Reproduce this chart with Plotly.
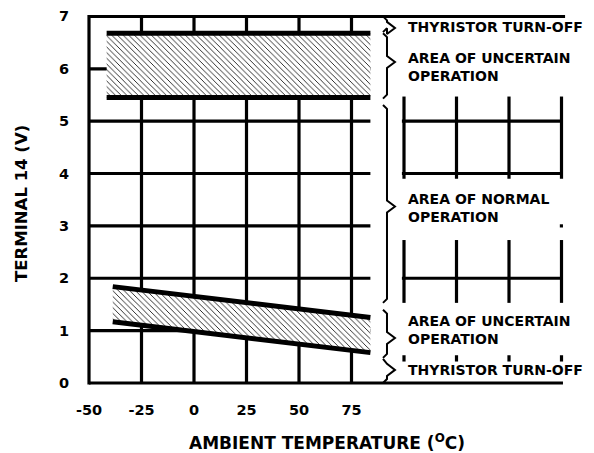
import plotly.graph_objects as go

# ---------------- data ----------------
x_ticks = [-50, -25, 0, 25, 50, 75]
y_ticks = [0, 1, 2, 3, 4, 5, 6, 7]

# upper band (thyristor turn-off region near 6V)
top_band_x = [-41.6, 84.0]
top_band_upper = [6.68, 6.68]
top_band_lower = [5.45, 5.45]

# lower band (declining with temperature)
low_band_x = [-38.7, 84.0]
low_band_upper = [1.84, 1.25]
low_band_lower = [1.17, 0.58]

# grid in left (chart) region
left_vlines = [-25, 0, 25, 50, 75]
left_hlines = [1, 2, 3, 4, 5, 6]
left_region_end = 84.0

# decorative grid in right (legend) region
right_vlines = [100, 125, 150, 175]
right_v_segments = [(5.47, 3.90), (2.73, 1.53), (0.53, 0.41)]
right_hlines = [5, 4, 2]
right_region = (99.0, 175.7)

# braces: (top, bottom, tip)
braces = [(7.0, 6.70, 6.78), (6.68, 5.43, 6.13), (5.31, 1.53, 3.37),
          (1.40, 0.48, 0.86), (0.46, 0.0, 0.25)]
labels = [("THYRISTOR TURN-OFF", 6.79), ("AREA OF UNCERTAIN<br>OPERATION", 6.04),
          ("AREA OF NORMAL<br>OPERATION", 3.35), ("AREA OF UNCERTAIN<br>OPERATION", 1.01),
          ("THYRISTOR TURN-OFF", 0.255)]

FONT = "DejaVu Sans"
fig = go.Figure()

# ---- grid lines ----
gx, gy = [], []
for v in left_vlines:
    gx += [v, v, None]; gy += [0, 7, None]
for h in left_hlines:
    gx += [-50, left_region_end, None]; gy += [h, h, None]
for v in right_vlines:
    for a, b in right_v_segments:
        gx += [v, v, None]; gy += [a, b, None]
for h in right_hlines:
    gx += [right_region[0], right_region[1], None]; gy += [h, h, None]
gx += [174.2, right_region[1], None]; gy += [3, 3, None]
# frame
gx += [-50, -50, None]; gy += [-0.03, 7.03, None]
gx += [-50, 176.7, None]; gy += [7, 7, None]
gx += [-50, right_region[1], None]; gy += [0, 0, None]
fig.add_trace(go.Scatter(x=gx, y=gy, mode="lines", line=dict(color="black", width=3.2),
                         hoverinfo="skip", showlegend=False))

# ---- hatched bands ----
pattern = dict(shape="\\", size=4, solidity=0.2, fgcolor="black", bgcolor="white", fgopacity=1)
for bx, lo, up in [(top_band_x, top_band_lower, top_band_upper),
                   (low_band_x, low_band_lower, low_band_upper)]:
    fig.add_trace(go.Scatter(x=bx + bx[::-1], y=lo + up[::-1], mode="lines", fill="toself",
                             fillcolor="white", fillpattern=pattern, line=dict(width=0),
                             hoverinfo="skip", showlegend=False))
    for yy in (lo, up):
        fig.add_trace(go.Scatter(x=bx, y=yy, mode="lines", line=dict(color="black", width=5),
                                 hoverinfo="skip", showlegend=False))

# ---- braces ----
xb, hook, tipw, hh, th = 91.9, 1.9, 3.8, 0.076, 0.115
bxs, bys = [], []
for top, bot, tip in braces:
    bxs += [xb - hook, xb, xb, xb + tipw, xb, xb, xb - hook, None]
    bys += [top, top - hh, tip + th, tip, tip - th, bot + hh, bot, None]
fig.add_trace(go.Scatter(x=bxs, y=bys, mode="lines", line=dict(color="black", width=2),
                         hoverinfo="skip", showlegend=False))

for txt, yy in labels:
    fig.add_annotation(x=100.8, y=yy, xref="x", yref="y", text=txt, showarrow=False,
                       xanchor="left", yanchor="middle", align="left",
                       font=dict(family=FONT, size=14, color="black", weight="bold"))

# axis titles
fig.add_annotation(x=0.5, y=-0.154, xref="paper", yref="paper",
                   text="AMBIENT TEMPERATURE (<sup>O</sup>C)", showarrow=False,
                   xanchor="center", yanchor="middle",
                   font=dict(family=FONT, size=17, color="black", weight="bold"))
fig.add_annotation(x=-0.1328, y=0.4919, xref="paper", yref="paper",
                   text="TERMINAL 14 (V)", showarrow=False, textangle=-90,
                   xanchor="center", yanchor="middle",
                   font=dict(family=FONT, size=16.5, color="black", weight="bold"))

fig.update_layout(
    width=586, height=445,
    margin=dict(l=78, r=26, t=7, b=68, autoexpand=False),
    paper_bgcolor="white", plot_bgcolor="white",
    xaxis=dict(range=[-51.4286, 178.095], tickvals=x_ticks, ticktext=[str(v) for v in x_ticks],
               showgrid=False, zeroline=False, showline=False, ticks="",
               ticklabelstandoff=14,
               tickfont=dict(family=FONT, size=14.5, color="black", weight="bold")),
    yaxis=dict(range=[-0.0382, 7.027], tickvals=y_ticks, ticktext=[str(v) for v in y_ticks],
               showgrid=False, zeroline=False, showline=False, ticks="",
               ticklabelstandoff=16,
               tickfont=dict(family=FONT, size=14.5, color="black", weight="bold")),
)

fig.write_html("out.html")
